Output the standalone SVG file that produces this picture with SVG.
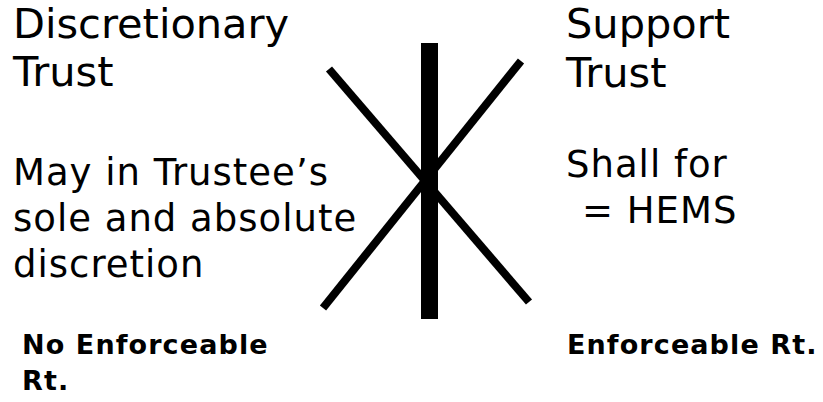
<svg xmlns="http://www.w3.org/2000/svg" width="823" height="402" viewBox="0 0 823 402">
<style>
text{font-family:"DejaVu Sans","Verdana",sans-serif;fill:#000}
.t{font-size:41.5px}
.b{font-size:37px;letter-spacing:1px}
.f{font-size:27px;font-weight:bold;letter-spacing:1.1px}
.ln{stroke:#000;stroke-linecap:butt;fill:none}
</style>
<rect width="823" height="402" fill="#fff"/>
<g id="connectors">
<line class="ln" x1="429.5" y1="43" x2="429.5" y2="319" stroke-width="17"/>
<line class="ln" x1="329" y1="69" x2="529" y2="302" stroke-width="8"/>
<line class="ln" x1="521" y1="61" x2="323" y2="308" stroke-width="8"/>
</g>
<g id="discretionary">
<text class="t" x="13" y="38">Discretionary</text>
<text class="t" x="13" y="86">Trust</text>
<text class="b" x="13" y="185">May in Trustee’s</text>
<text class="b" x="13" y="231">sole and absolute</text>
<text class="b" x="13" y="277">discretion</text>
<text class="f" x="22" y="354">No Enforceable</text>
<text class="f" x="22" y="390">Rt.</text>
</g>
<g id="support">
<text class="t" x="566" y="38">Support</text>
<text class="t" x="566" y="87">Trust</text>
<text class="b" x="566" y="177">Shall for</text>
<text class="b" x="582" y="223">= HEMS</text>
<text class="f" x="567" y="354">Enforceable Rt.</text>
</g>
</svg>
